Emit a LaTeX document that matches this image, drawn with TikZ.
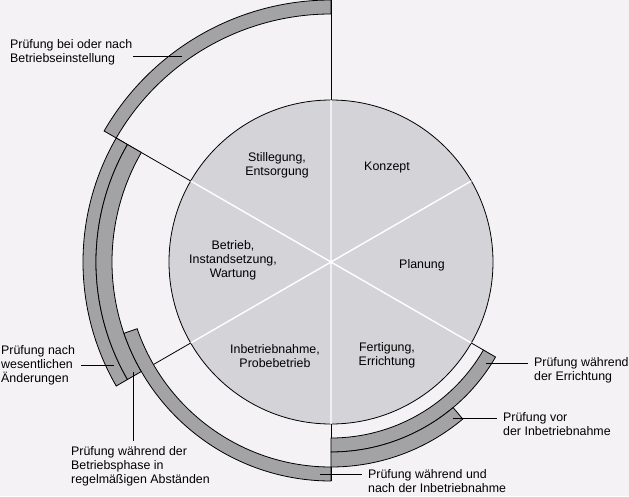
\documentclass[tikz,border=0pt]{standalone}
\usepackage{fontspec}
\setmainfont{Liberation Sans}
\definecolor{paper}{RGB}{244,242,245}
\definecolor{discgray}{RGB}{212,211,216}
\definecolor{bandgray}{RGB}{163,163,166}
\tikzset{
	textnode/.style = {
		inner sep=0pt,
		font=\fontsize{12.4}{13.8}\selectfont
	},
	node_phase/.style = {
		textnode,
		align=center
	},
	node_note/.style = {
		textnode,
		align=left,
		anchor=west
	},
	ring_band/.style = {
		fill=bandgray,
		draw=black,
		line width=0.8pt
	},
	leader/.style = {
		draw=black,
		line width=0.8pt,
		shorten >=6pt
	},
}
\begin{document}
\begin{tikzpicture}[x=1pt, y=1pt]
\useasboundingbox (-331,-234) rectangle (298,262);
\fill[paper] (-331,-234) rectangle (298,262);

% life cycle disc
\filldraw[fill=discgray, draw=black, line width=0.8pt] (0,0) circle[radius=162pt];
\draw[white, line width=1.4pt] (90:162pt) -- (270:162pt) (30:162pt) -- (210:162pt) (150:162pt) -- (330:162pt);
\draw[line width=0.8pt] (90:162pt) -- (90:262pt);
\draw[line width=0.8pt] (150:162pt) -- (150:248pt);
\draw[line width=0.8pt] (210:162pt) -- (210:205pt);
\draw[line width=0.8pt] (270:162pt) -- (270:219pt);
\draw[line width=0.8pt] (330:162pt) -- (330:176pt);

\node [node_phase] (ph_konzept) at (56,94) {Konzept};
\node [node_phase] (ph_planung) at (91,-3) {Planung};
\node [node_phase] (ph_fertig) at (56,-93) {Fertigung,\\Errichtung};
\node [node_phase] (ph_inbetr) at (-56,-94) {Inbetriebnahme,\\Probebetrieb};
\node [node_phase] (ph_betrieb) at (-98,2) {Betrieb,\\Instandsetzung,\\Wartung};
\node [node_phase] (ph_still) at (-54,97) {Stillegung,\\Entsorgung};

% inspection bands
\draw[ring_band] (150:235pt) arc[start angle=150, end angle=210, radius=235pt] -- (210:248pt) arc[start angle=210, end angle=150, radius=248pt] -- cycle;
\draw[ring_band] (150:219pt) arc[start angle=150, end angle=210, radius=219pt] -- (210:235pt) arc[start angle=210, end angle=150, radius=235pt] -- cycle;
\draw[ring_band] (199:205pt) arc[start angle=199, end angle=270, radius=205pt] -- (270:219pt) arc[start angle=270, end angle=199, radius=219pt] -- cycle;
\draw[ring_band] (90:248pt) arc[start angle=90, end angle=150, radius=248pt] -- (150:262pt) arc[start angle=150, end angle=90, radius=262pt] -- cycle;
\draw[ring_band] (270:176pt) arc[start angle=270, end angle=330, radius=176pt] -- (330:190pt) arc[start angle=330, end angle=270, radius=190pt] -- cycle;
\draw[ring_band] (270:190pt) arc[start angle=270, end angle=310, radius=190pt] -- (310:205pt) arc[start angle=310, end angle=270, radius=205pt] -- cycle;

% notes
\node [node_note] (n_einst) at (-321,210) {Prüfung bei oder nach\\Betriebseinstellung};
\node [node_note] (n_aend) at (-330,-103) {Prüfung nach\\wesentlichen\\Änderungen};
\node [node_note] (n_betrieb) at (-260,-204) {Prüfung während der\\Betriebsphase in\\regelmäßigen Abständen};
\node [node_note] (n_erricht) at (203,-108) {Prüfung während\\der Errichtung};
\node [node_note] (n_vor) at (172,-162) {Prüfung vor\\der Inbetriebnahme};
\node [node_note] (n_inbetr) at (37,-219) {Prüfung während und\\nach der Inbetriebnahme};

\coordinate (l_einst) at (-149,206);
\coordinate (l_aend) at (-217,-103);
\coordinate (l_betrieb) at (-198,-110);
\coordinate (l_erricht) at (155,-101);
\coordinate (l_vor) at (122,-156);
\coordinate (l_inbetr) at (-11,-212);

\draw[leader, shorten >=1pt] (l_einst) -- (l_einst -| n_einst.east);
\draw[leader] (l_aend) -- (l_aend -| n_aend.east);
\draw[leader, shorten >=5pt] (l_betrieb) -- (l_betrieb |- n_betrieb.north);
\draw[leader] (l_erricht) -- (l_erricht -| n_erricht.west);
\draw[leader] (l_vor) -- (l_vor -| n_vor.west);
\draw[leader] (l_inbetr) -- (l_inbetr -| n_inbetr.west);
\end{tikzpicture}
\end{document}
